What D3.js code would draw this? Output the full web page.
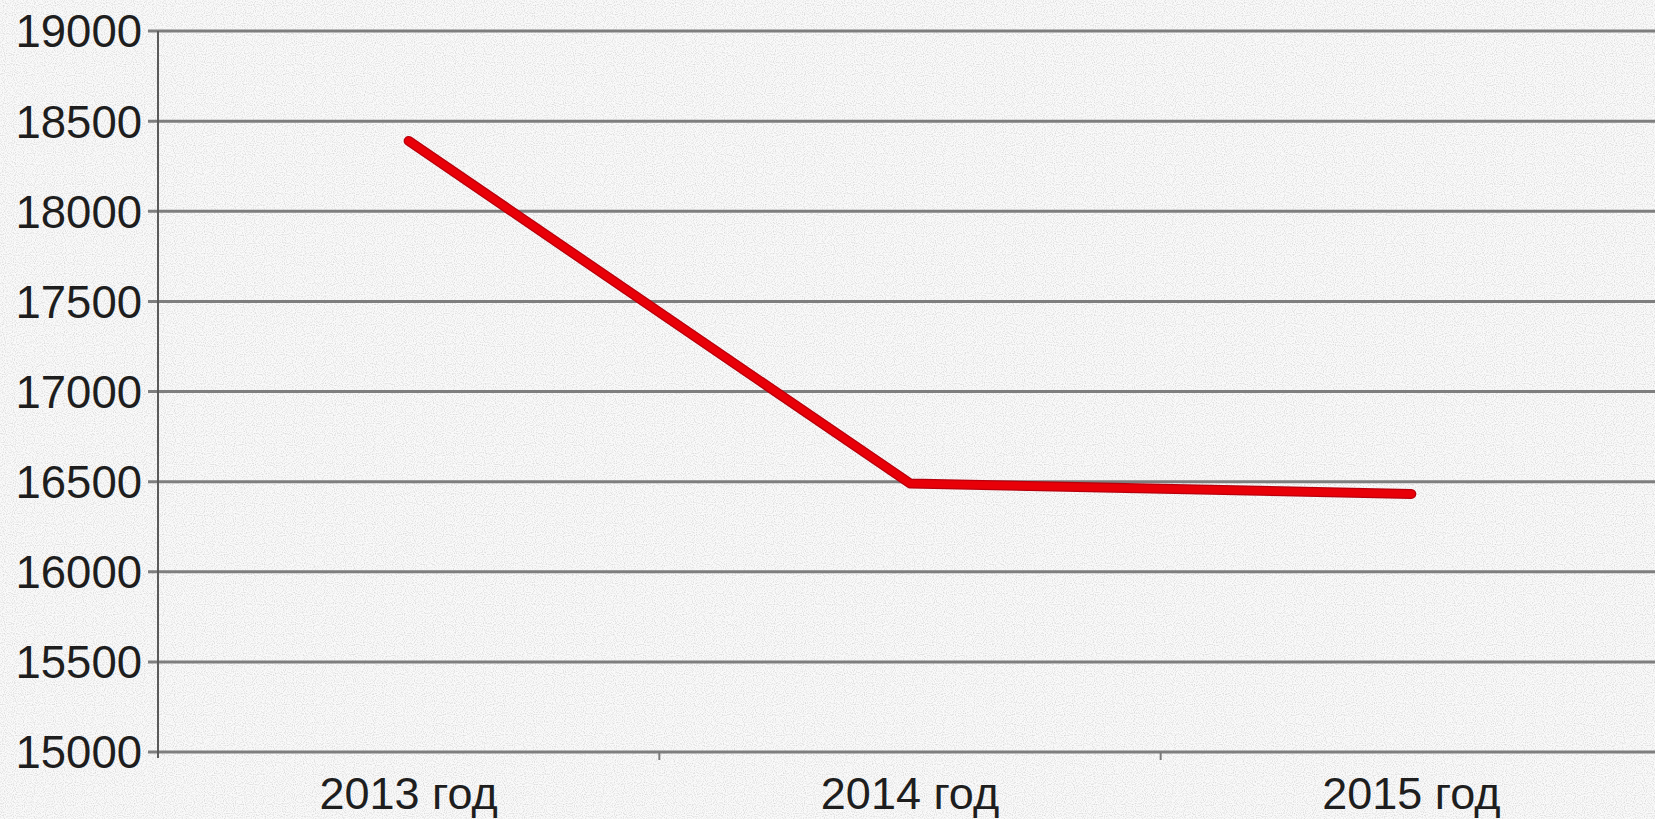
<!DOCTYPE html>
<html>
<head>
<meta charset="utf-8">
<script src="https://cdn.jsdelivr.net/npm/d3@7"></script>
<style>
html, body { margin: 0; padding: 0; background: #f1f1f1; }
svg { display: block; }
</style>
</head>
<body>
<svg id="chart" width="1655" height="819"></svg>
<script>
const categories = ["2013 год", "2014 год", "2015 год"];
const values = [18390, 16490, 16432];
const yTicks = [15000, 15500, 16000, 16500, 17000, 17500, 18000, 18500, 19000];

(function () {
const W = 1655, H = 819;
const mLeft = 158, mRight = 1662, mTop = 31, mBottom = 752;
const svg = d3.select("#chart");

// background with grain
const defs = svg.append("defs");
const f = defs.append("filter").attr("id", "grain").attr("x", 0).attr("y", 0).attr("width", "100%").attr("height", "100%");
f.append("feTurbulence").attr("type", "fractalNoise").attr("baseFrequency", 0.9).attr("numOctaves", 1).attr("seed", 3).attr("result", "n");
f.append("feColorMatrix").attr("in", "n").attr("type", "matrix")
  .attr("values", "0 0 0 0 0.45  0 0 0 0 0.45  0 0 0 0 0.45  0 0 0 -2.2 1.25");
svg.append("rect").attr("width", W).attr("height", H).attr("fill", "#fafafa");
svg.append("rect").attr("width", W).attr("height", H).attr("filter", "url(#grain)").attr("opacity", 0.55);

const x = d3.scaleBand().domain(categories).range([mLeft, mRight]).padding(0);
const y = d3.scaleLinear().domain([15000, 19000]).range([mBottom, mTop]);

// gridlines
svg.append("g").selectAll("line").data(yTicks).join("line")
  .attr("x1", mLeft - 10).attr("x2", W)
  .attr("y1", d => y(d)).attr("y2", d => y(d))
  .attr("stroke", "#7e7e7e").attr("stroke-width", 3);

// y axis line
svg.append("line").attr("x1", mLeft).attr("x2", mLeft).attr("y1", y(19000)).attr("y2", y(15000) + 6)
  .attr("stroke", "#5a5a5a").attr("stroke-width", 2);

// x ticks at band boundaries
svg.append("g").selectAll("line").data(categories.slice(1)).join("line")
  .attr("x1", d => x(d)).attr("x2", d => x(d))
  .attr("y1", mBottom).attr("y2", mBottom + 8)
  .attr("stroke", "#7a7a7a").attr("stroke-width", 2);

// y labels
svg.append("g").selectAll("text").data(yTicks).join("text")
  .attr("x", 142).attr("y", d => y(d)).attr("dy", "0.36em")
  .attr("text-anchor", "end")
  .attr("font-family", "Liberation Sans, Arial, sans-serif").attr("font-size", 45.5)
  .attr("fill", "#1e1e1e").text(d => d);

// x labels
svg.append("g").selectAll("text").data(categories).join("text")
  .attr("x", d => x(d) + x.bandwidth() / 2).attr("y", 809)
  .attr("text-anchor", "middle")
  .attr("font-family", "Liberation Sans, Arial, sans-serif").attr("font-size", 45)
  .attr("fill", "#1e1e1e").text(d => d);

// line
const line = d3.line().x((d, i) => x(categories[i]) + x.bandwidth() / 2).y(d => y(d));
svg.append("path").datum(values).attr("d", line)
  .attr("fill", "none").attr("stroke", "#b8000c").attr("stroke-width", 10)
  .attr("stroke-linejoin", "round").attr("stroke-linecap", "round");
svg.append("path").datum(values).attr("d", line)
  .attr("fill", "none").attr("stroke", "#e80008").attr("stroke-width", 7.5)
  .attr("stroke-linejoin", "round").attr("stroke-linecap", "round");
})();
</script>
</body>
</html>
